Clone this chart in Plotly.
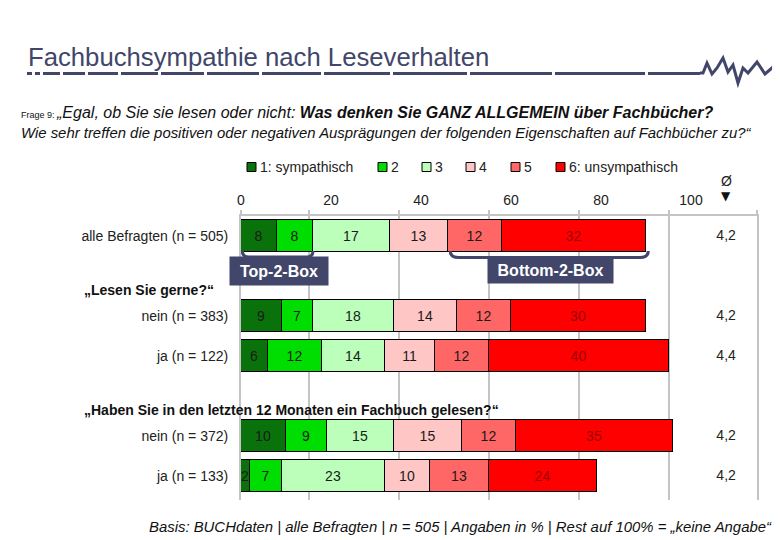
import plotly.graph_objects as go

# ---------------- data ----------------
categories = ["alle Befragten (n = 505)", "nein (n = 383)", "ja (n = 122)",
              "nein (n = 372)", "ja (n = 133)"]
s1 = [8, 9, 6, 10, 2]
s2 = [8, 7, 12, 9, 7]
s3 = [17, 18, 14, 15, 23]
s4 = [13, 14, 11, 15, 10]
s5 = [12, 12, 12, 12, 13]
s6 = [32, 30, 40, 35, 24]
means = ["4,2", "4,2", "4,4", "4,2", "4,2"]
series_names = ["1: sympathisch", "2", "3", "4", "5", "6: unsympathisch"]
x_tick_vals = [0, 20, 40, 60, 80, 100]
group_headers = ["„Lesen Sie gerne?“", "„Haben Sie in den letzten 12 Monaten ein Fachbuch gelesen?“"]

# ---------------- layout / style ----------------
OFF = 8                                   # page body margin
FW, FH = 780 - OFF, 540 - OFF
L, R, T, B = 241, 757, 216, 500          # plot area in reference pixels
ROW_POS = [0, 2, 3, 5, 6]
Y_RANGE = [6.6, -0.5]
X_MAX = (R - L) / 4.5
GRID_X = [0, 15.1, 35.1, 55.1, 75.1, 95.1]
MEAN_X = 107.8
COLORS = ["#0a720a", "#00dd00", "#bbffbb", "#ffc6c6", "#ff6666", "#ff0000"]
TEXT_COLORS = ["#1a1a1a", "#1a1a1a", "#1a1a1a", "#1a1a1a", "#1a1a1a", "#990000"]
SLATE = "#41466a"
FONT = "Arial, Liberation Sans, sans-serif"
GRID = "#c4c4c4"


def X(px):
    return (px - L) / (R - L)


def Y(py):
    return (B - py) / (B - T)


fig = go.Figure()
series = [s1, s2, s3, s4, s5, s6]
for name, vals, col, tcol in zip(series_names, series, COLORS, TEXT_COLORS):
    fig.add_trace(go.Bar(
        x=vals, y=ROW_POS, orientation="h", name=name,
        marker=dict(color=col, line=dict(color="#000000", width=1)),
        text=[str(v) for v in vals], textposition="inside",
        insidetextanchor="middle", textangle=0,
        textfont=dict(family=FONT, size=14, color=tcol),
        width=0.8, showlegend=False, hoverinfo="skip", cliponaxis=False,
    ))

fig.add_trace(go.Scatter(
    x=[MEAN_X] * len(means), y=ROW_POS, text=means, mode="text",
    textfont=dict(family=FONT, size=14, color="#222222"),
    xaxis="x2", yaxis="y", showlegend=False, hoverinfo="skip",
))

shapes = []
annotations = []


def label(px, py, text, size, color="#111111", xanchor="left", family=FONT, **kw):
    annotations.append(dict(x=X(px), y=Y(py), xref="paper", yref="paper",
                            xanchor=xanchor, yanchor="middle", showarrow=False,
                            text=text, font=dict(family=family, size=size, color=color),
                            **kw))


# title + dashed underline + squiggle
label(26, 57, "Fachbuchsympathie nach Leseverhalten", 25.7, color=SLATE)
dash_bp = [27, 35, 43, 63, 88, 121, 161, 207, 262, 324, 393, 470, 555, 648, 703]
for a, b in zip(dash_bp[:-1], dash_bp[1:]):
    shapes.append(dict(type="line", xref="paper", yref="paper",
                       x0=X(a), x1=X(b - 3), y0=Y(73.5), y1=Y(73.5),
                       line=dict(color=SLATE, width=3)))
squiggle = [(700, 73), (703, 73), (707, 63), (712, 74), (717, 68), (723, 58), (728, 72),
            (733, 65), (738, 83), (743, 68), (748, 73), (757, 62), (765, 74), (772, 68),
            (780, 58)]
path = "M " + " L ".join(f"{X(a):.5f},{Y(b):.5f}" for a, b in squiggle)
shapes.append(dict(type="path", xref="paper", yref="paper", path=path,
                   line=dict(color=SLATE, width=3)))

# question text
label(19, 113, ("<span style='font-size:9px'>Frage 9: </span><i>„Egal, ob Sie sie lesen oder nicht: "
                "<b>Was denken Sie GANZ ALLGEMEIN über Fachbücher?</b></i>"), 16)
label(19, 133, ("<i>Wie sehr treffen die positiven oder negativen Ausprägungen der folgenden "
                "Eigenschaften auf Fachbücher zu?“</i>"), 14.9)

# legend (manual)
LEG_SQ_X = [247, 378, 422, 466, 511, 556]
for name, col, sx in zip(series_names, COLORS, LEG_SQ_X):
    shapes.append(dict(type="rect", xref="paper", yref="paper",
                       x0=X(sx), x1=X(sx + 9), y0=Y(171.5), y1=Y(162.5),
                       fillcolor=col, line=dict(color="#000000", width=1)))
    label(sx + 11, 167, name, 14, color="#222222")

# mean header
label(726, 181, "Ø", 14, color="#222222", xanchor="center")
label(726, 196, "▼", 12, color="#111111", xanchor="center", family="DejaVu Sans")

# group headers
for txt, py in zip(group_headers, [290, 410]):
    label(82, py, f"<b>{txt}</b>", 14)


# brackets
def bracket(x0, x1, ytop, ybot, r):
    return (f"M {x0},{Y(ytop)} Q {x0},{Y(ybot)} {x0 + r},{Y(ybot)} "
            f"L {x1 - r},{Y(ybot)} Q {x1},{Y(ybot)} {x1},{Y(ytop)}")


top2 = s1[0] + s2[0]
bot_start = s1[0] + s2[0] + s3[0] + s4[0]
total0 = sum(s[0] for s in series)
shapes.append(dict(type="path", xref="x", yref="paper",
                   path=bracket(0.3, top2, 251, 257, 1.5), line=dict(color=SLATE, width=3)))
shapes.append(dict(type="path", xref="x", yref="paper",
                   path=bracket(bot_start + 0.5, total0 + 0.5, 251, 257.5, 1.8),
                   line=dict(color=SLATE, width=3)))
label(279, 271, "<b>Top-2-Box</b>", 16, color="#ffffff", xanchor="center",
      bgcolor=SLATE, width=90, height=20, borderpad=4)
label(550, 270, "<b>Bottom-2-Box</b>", 16, color="#ffffff", xanchor="center",
      bgcolor=SLATE, width=117, height=18, borderpad=4)

# footer
label(774, 527, "<i>Basis: BUCHdaten | alle Befragten | n = 505 | Angaben in % | Rest auf 100% = „keine Angabe“</i>",
      14.9, xanchor="right")

fig.update_layout(
    width=FW, height=FH,
    margin=dict(l=L - OFF, r=FW - (R - OFF), t=T - OFF, b=FH - (B - OFF), pad=0),
    paper_bgcolor="#ffffff", plot_bgcolor="#ffffff",
    barmode="stack", bargap=0,
    uniformtext=dict(minsize=14, mode="show"),
    showlegend=False,
    xaxis=dict(range=[0, X_MAX], side="top", tickvals=x_tick_vals,
               ticks="outside", ticklen=4, tickcolor="rgba(0,0,0,0)",
               showgrid=False, zeroline=False, showline=False,
               tickfont=dict(family=FONT, size=14, color="#222222"), fixedrange=True),
    xaxis2=dict(range=[0, X_MAX], overlaying="x", side="top", anchor="y",
                tickvals=GRID_X + [X_MAX], showticklabels=False,
                ticks="outside", ticklen=4, tickwidth=2, tickcolor=GRID,
                showgrid=True, gridcolor=GRID, gridwidth=2,
                zeroline=False, showline=True, linecolor=GRID, linewidth=2),
    yaxis=dict(range=Y_RANGE, tickvals=ROW_POS, ticktext=categories,
               ticks="outside", ticklen=8, tickcolor="rgba(0,0,0,0)",
               showgrid=False, zeroline=False, showline=True, mirror=True,
               linecolor=GRID, linewidth=2,
               tickfont=dict(family=FONT, size=14, color="#222222")),
    shapes=shapes, annotations=annotations,
)

fig.write_html("out.html")
